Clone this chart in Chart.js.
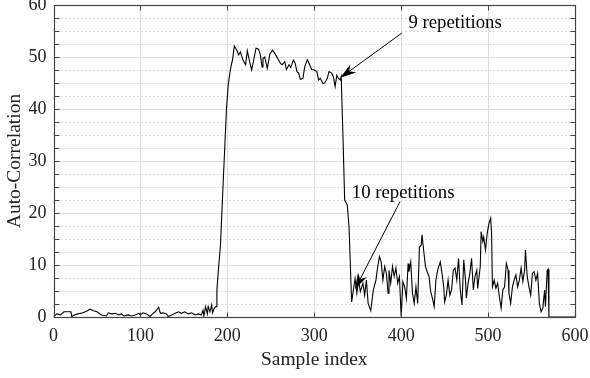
<!DOCTYPE html>
<html>
<head>
<meta charset="utf-8">
<script src="https://cdn.jsdelivr.net/npm/chart.js@4.4.0/dist/chart.umd.min.js"></script>
<style>
  html, body { margin: 0; padding: 0; background: #fff; }
</style>
</head>
<body>
<canvas id="chart" width="590" height="378"></canvas>
<script>
// sample index / auto-correlation
const sampleIdx = [
  0, 4, 8, 12, 17, 20, 21, 24, 28, 34, 39, 42, 46, 50, 55, 61, 63, 67, 71, 75,
  78, 81, 86, 90, 94, 98, 100, 103, 107, 111, 114, 117, 121, 123, 126, 130, 132, 136, 140, 144,
  147, 151, 155, 159, 163, 167, 170, 172, 173, 175, 177, 178, 180, 182, 183, 185, 187, 188, 190, 192,
  195, 199, 201, 203, 204, 206, 208, 211, 213, 215, 218, 221, 223, 226, 228, 231, 233, 236, 238, 240,
  241, 243, 246, 249, 252, 255, 258, 261, 263, 266, 268, 271, 273, 276, 278, 280, 282, 284, 287, 289,
  292, 294, 297, 300, 303, 305, 307, 310, 312, 315, 317, 320, 322, 324, 326, 328, 330, 331, 333, 335,
  338, 340, 343, 347, 349, 351, 353, 356, 358, 360, 362, 365, 368, 371, 373, 375, 377, 379, 381, 383,
  385, 386, 388, 390, 392, 394, 396, 398, 400, 402, 404, 406, 408, 409, 411, 413, 415, 417, 419, 421,
  423, 424, 426, 428, 430, 432, 434, 436, 438, 440, 442, 445, 447, 449, 450, 452, 454, 456, 458, 460,
  462, 464, 466, 468, 470, 472, 474, 475, 477, 479, 481, 483, 485, 487, 488, 491, 492, 494, 495, 497,
  499, 501, 503, 504, 505, 507, 509, 511, 513, 515, 517, 519, 521, 523, 524, 526, 528, 530, 532, 534,
  536, 538, 540, 542, 543, 545, 547, 549, 551, 553, 555, 557, 559, 561, 563, 565, 566, 568, 569, 570,
  600
];
const autoCorr = [
  0.1, 0.6, 0.4, 1.0, 1.0, 1.0, 0.1, 0.4, 0.6, 0.8, 1.2, 1.5, 1.2, 1.0, 0.4, 0.2, 0.8, 0.6, 0.7, 0.4,
  0.6, 0.2, 0.4, 0.2, 0.4, 0.7, 0.4, 0.8, 0.6, 0.1, 0.6, 1.0, 1.9, 0.7, 0.8, 0.6, 0.1, 0.4, 0.7, 1.0,
  0.7, 1.0, 0.6, 0.8, 0.4, 0.6, 0.4, 1.3, 0.2, 2.0, 0.6, 2.0, 1.0, 2.3, 0.8, 1.7, 2.0, 5.2, 9.7, 13.5,
  25, 40, 44.6, 47, 48, 49.5, 52.1, 51.3, 50.4, 51.0, 49.4, 48.5, 51.2, 48.8, 47.5, 50, 51.7, 51.5, 50.4, 48.1,
  49.7, 50, 47.8, 50.6, 51.3, 50.6, 49.7, 48.8, 48.5, 49.1, 47.6, 48.5, 48, 49.4, 48.8, 47.2, 46.9, 45.7, 45.9, 48.1,
  49.5, 48.8, 47.6, 47.5, 47.2, 45.6, 45.9, 44.9, 45, 45.9, 47.2, 46.9, 46.2, 44.3, 46.5, 45.9, 45.6, 46.2, 35, 22.5,
  21.5, 17.4, 2.9, 7.4, 4.6, 7.1, 4.9, 6.5, 4.2, 7.1, 2.6, 1.2, 5.2, 7.1, 9.7, 11.6, 10.6, 7.1, 9.7, 8.4,
  4.6, 9, 6.5, 9.7, 7.8, 9.4, 6.5, 7.8, 0.1, 6.8, 5.8, 3.6, 10.3, 8.7, 10.6, 4.6, 2.6, 5.8, 2.6, 13.5,
  13.8, 15.8, 12.6, 9.7, 8.7, 7.8, 4.9, 3.6, 2, 7.1, 9, 10.6, 8.4, 5.8, 2.9, 4.2, 7.1, 4.2, 5.2, 9,
  9.4, 7.1, 11.3, 5.2, 2.3, 11, 7.1, 3.6, 6.5, 8.4, 11.3, 5.2, 7.8, 9, 5.5, 9.7, 16.4, 14.5, 15.4, 12.9,
  16.1, 18, 19, 16.1, 5.8, 7.1, 5.5, 6.5, 3.9, 1.7, 5.2, 5.8, 10.3, 9, 4.6, 2.6, 5.8, 7.1, 8.1, 5.8,
  7.1, 9.4, 6.8, 9, 12.9, 7.8, 5.8, 4.2, 8.4, 8.7, 7.1, 8.4, 2.6, 1, 1.7, 5.2, 2, 9, 9.2, 0,
  0
];
const xTicks = [0, 100, 200, 300, 400, 500, 600];
const yTicks = [0, 10, 20, 30, 40, 50, 60];
const yMinorStep = 2.5;

// text callouts: label anchor and arrow tail -> tip, in data units
const notes = [
  { text: '9 repetitions', at: [408.3, 55.5], from: [400.7, 54.6], to: [330, 46.0] },
  { text: '10 repetitions', at: [343.2, 22.8], from: [398.7, 22.2], to: [347, 5.4] }
];

const serif = { family: 'Liberation Serif', size: 18 };
const textColor = '#222';
const frameColor = '#444';

function hline(ctx, x0, x1, y) {
  ctx.beginPath(); ctx.moveTo(x0, y); ctx.lineTo(x1, y); ctx.stroke();
}
function vline(ctx, x, y0, y1) {
  ctx.beginPath(); ctx.moveTo(x, y0); ctx.lineTo(x, y1); ctx.stroke();
}

function drawArrow(ctx, x0, y0, x1, y1) {
  const ang = Math.atan2(y1 - y0, x1 - x0);
  const len = 16, half = 5, back = 11;
  ctx.beginPath(); ctx.moveTo(x0, y0);
  ctx.lineTo(x1 - Math.cos(ang) * back, y1 - Math.sin(ang) * back);
  ctx.stroke();
  const bx = x1 - Math.cos(ang) * len, by = y1 - Math.sin(ang) * len;
  const nx = -Math.sin(ang), ny = Math.cos(ang);
  ctx.beginPath();
  ctx.moveTo(x1, y1);
  ctx.lineTo(bx + nx * half, by + ny * half);
  ctx.lineTo(x1 - Math.cos(ang) * back, y1 - Math.sin(ang) * back);
  ctx.lineTo(bx - nx * half, by - ny * half);
  ctx.closePath();
  ctx.fill();
}

const frameAndGrid = {
  id: 'frameAndGrid',
  beforeDatasetsDraw(chart) {
    const { ctx, chartArea: a, scales: { x, y } } = chart;
    ctx.save();
    ctx.lineWidth = 1;
    ctx.strokeStyle = '#b8b8b8';
    ctx.setLineDash([1, 3]);
    for (let v = yTicks[0]; v <= yTicks[yTicks.length - 1]; v += yMinorStep) {
      if (yTicks.includes(v)) continue;
      hline(ctx, a.left, a.right, Math.round(y.getPixelForValue(v)) + 0.5);
    }
    ctx.setLineDash([]);
    ctx.strokeStyle = '#dedede';
    yTicks.forEach(v => hline(ctx, a.left, a.right, Math.round(y.getPixelForValue(v)) + 0.5));
    xTicks.forEach(v => vline(ctx, Math.round(x.getPixelForValue(v)) + 0.5, a.top, a.bottom));
    ctx.restore();
  },
  afterDatasetsDraw(chart) {
    const { ctx, chartArea: a, scales: { x, y } } = chart;
    ctx.save();
    ctx.strokeStyle = frameColor;
    ctx.lineWidth = 1.2;
    const L = Math.round(a.left) + 0.5, R = Math.round(a.right) + 0.5;
    const T = Math.round(a.top) + 0.5, B = Math.round(a.bottom) + 0.5;
    ctx.strokeRect(L, T, R - L, B - T);
    ctx.lineWidth = 1;
    for (let v = yTicks[0]; v <= yTicks[yTicks.length - 1]; v += yMinorStep) {
      const py = Math.round(y.getPixelForValue(v)) + 0.5;
      hline(ctx, L, L + 5, py);
      hline(ctx, R - 5, R, py);
    }
    xTicks.forEach(v => {
      const px = Math.round(x.getPixelForValue(v)) + 0.5;
      vline(ctx, px, T, T + 5);
      vline(ctx, px, B - 5, B);
    });

    ctx.fillStyle = '#000';
    ctx.strokeStyle = '#000';
    ctx.font = '18.8px "Liberation Serif"';
    ctx.textBaseline = 'alphabetic';
    notes.forEach(n => {
      ctx.fillText(n.text, x.getPixelForValue(n.at[0]), y.getPixelForValue(n.at[1]));
      drawArrow(ctx,
        x.getPixelForValue(n.from[0]), y.getPixelForValue(n.from[1]),
        x.getPixelForValue(n.to[0]), y.getPixelForValue(n.to[1]));
    });
    ctx.restore();
  }
};

const points = sampleIdx.map((s, i) => ({ x: s, y: autoCorr[i] }));

const ctx = document.getElementById('chart').getContext('2d');
const chart = new Chart(ctx, {
  type: 'line',
  data: {
    datasets: [{
      data: points,
      borderColor: '#000',
      borderWidth: 1.1,
      pointRadius: 0,
      tension: 0,
      fill: false
    }]
  },
  options: {
    responsive: false,
    animation: false,
    layout: { padding: { top: 5, right: 15, left: 0, bottom: 0 } },
    plugins: { legend: { display: false }, tooltip: { enabled: false } },
    scales: {
      x: {
        type: 'linear',
        min: 0,
        max: 600,
        afterBuildTicks: s => { s.ticks = xTicks.map(v => ({ value: v })); },
        afterFit: s => { s.height = 61; s.paddingLeft = 0; s.paddingRight = 0; },
        grid: { display: false, drawTicks: false },
        border: { display: false },
        ticks: { font: serif, color: textColor, padding: 8, maxRotation: 0 },
        title: {
          display: true, text: 'Sample index', color: textColor,
          font: { family: 'Liberation Serif', size: 19.5 },
          padding: { top: 0, bottom: 6.5 }
        }
      },
      y: {
        min: 0,
        max: 60,
        afterBuildTicks: s => { s.ticks = yTicks.map(v => ({ value: v })); },
        afterFit: s => { s.width = 53.5; s.paddingTop = 0; s.paddingBottom = 0; },
        grid: { display: false, drawTicks: false },
        border: { display: false },
        ticks: { font: serif, color: textColor, padding: 7 },
        title: {
          display: true, text: 'Auto-Correlation', color: textColor,
          font: { family: 'Liberation Serif', size: 19.5 },
          padding: { top: 3, bottom: 0 }
        }
      }
    }
  },
  plugins: [frameAndGrid]
});
</script>
</body>
</html>
